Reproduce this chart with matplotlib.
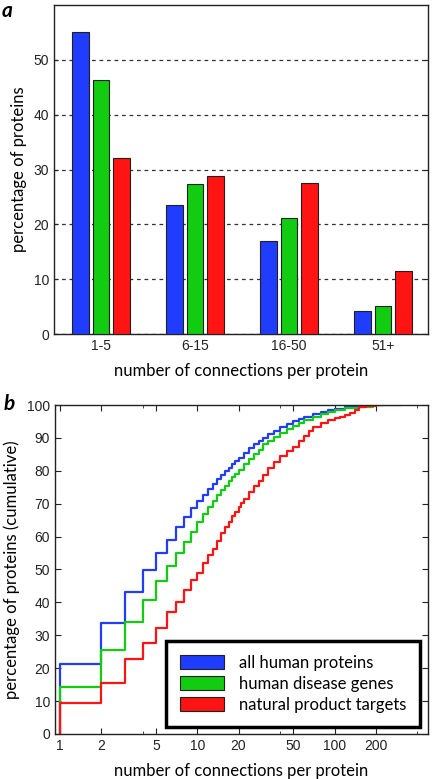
import matplotlib.pyplot as plt
import matplotlib.patches as mpatches
import numpy as np

# panel a: bars
groups = ["1-5", "6-15", "16-50", "51+"]
all_human = [55.0, 23.6, 16.9, 4.2]
disease = [46.3, 27.4, 21.2, 5.1]
natural = [32.1, 28.8, 27.6, 11.5]

# panel b: cumulative curves (x = connections, y = percent)
blue_x = [1, 2, 3, 4, 5, 6, 7, 8, 9, 10, 11, 12, 13, 14, 15, 16, 17, 18, 19, 20,
          22, 24, 26, 28, 30, 33, 36, 40, 45, 50, 55, 60, 70, 80, 90, 100, 120, 150, 170, 210]
blue_y = [21.4, 33.7, 43.2, 49.9, 55.0, 59.1, 62.8, 66.0, 68.6, 70.8, 72.6, 74.4, 75.9, 77.4,
          78.7, 79.9, 81.0, 82.0, 83.0, 83.9, 85.4, 86.8, 88.0, 89.1, 90.0, 91.2, 92.2, 93.3,
          94.3, 95.1, 95.8, 96.4, 97.3, 98.0, 98.5, 98.9, 99.4, 99.8, 100.0, 100.0]
green_x = [1, 2, 3, 4, 5, 6, 7, 8, 9, 10, 11, 12, 13, 14, 15, 16, 17, 18, 19, 20,
           22, 24, 26, 28, 30, 33, 36, 40, 45, 50, 55, 60, 70, 80, 90, 100, 120, 150, 190, 220]
green_y = [14.4, 25.6, 34.0, 40.7, 46.4, 51.0, 55.1, 58.4, 61.4, 64.3, 66.8, 69.0, 70.9, 72.6,
           74.1, 75.5, 76.8, 78.0, 79.1, 80.1, 82.0, 83.6, 85.0, 86.3, 88.0, 89.2, 90.2, 91.4,
           92.6, 93.7, 94.6, 95.3, 96.5, 97.3, 97.9, 98.4, 99.0, 99.5, 100.0, 100.0]
red_x = [1, 2, 3, 4, 5, 6, 7, 8, 9, 10, 11, 12, 13, 14, 15, 16, 17, 18, 19, 20, 21, 22,
         24, 26, 28, 30, 33, 36, 40, 45, 50, 55, 60, 65, 70, 80, 90, 100, 110, 120, 130,
         140, 150, 170, 200, 300]
red_y = [9.3, 15.6, 22.8, 27.7, 32.3, 37.0, 40.2, 43.8, 46.8, 49.0, 52.0, 54.3, 56.2, 58.8,
         61.0, 62.8, 64.5, 66.2, 67.6, 69.0, 70.2, 71.3, 73.5, 75.3, 77.0, 78.6, 80.8, 82.6,
         84.6, 86.0, 87.3, 89.0, 90.5, 92.0, 93.3, 94.6, 95.3, 96.0, 96.5, 97.0, 97.6, 98.6,
         99.3, 99.7, 99.9, 100.0]
series_names = ["all human proteins", "human disease genes", "natural product targets"]

BLUE = "#1f3cff"
GREEN = "#12cc12"
RED = "#ff1414"
LABEL_FONT = ["Lato", "DejaVu Sans"]
TICK_FONT = ["Liberation Sans", "DejaVu Sans"]

plt.rcParams["font.family"] = TICK_FONT
plt.rcParams["axes.edgecolor"] = "#222222"
plt.rcParams["axes.linewidth"] = 1.0

fig = plt.figure(figsize=(4.32, 7.79), dpi=100)

# ---- panel a ----
ax1 = fig.add_axes([0.125, 0.5712, 0.866, 0.4224])
x = np.arange(1, len(groups) + 1)
off = 0.22
w = 0.18
ax1.bar(x - off, all_human, w, color=BLUE, edgecolor="#202020", linewidth=0.8, zorder=3)
ax1.bar(x, disease, w, color=GREEN, edgecolor="#202020", linewidth=0.8, zorder=3)
ax1.bar(x + off, natural, w, color=RED, edgecolor="#202020", linewidth=0.8, zorder=3)
ax1.set_xlim(0.5, 4.48)
ax1.set_ylim(0, 60)
ax1.set_yticks([0, 10, 20, 30, 40, 50])
ax1.set_xticks(x)
ax1.set_xticklabels(groups)
ax1.yaxis.grid(True, color="#333333", linestyle=(0, (3, 3)), linewidth=0.9, zorder=0)
ax1.set_axisbelow(True)
ax1.tick_params(direction="in", labelsize=10, length=3, colors="#222222",
                right=True, top=False)
ax1.set_ylabel("percentage of proteins", family=LABEL_FONT, fontsize=12, labelpad=5)
ax1.set_xlabel("number of connections per protein", family=LABEL_FONT, fontsize=12, labelpad=7)

# ---- panel b ----
ax2 = fig.add_axes([0.127, 0.0578, 0.864, 0.4223])
for xs, ys, c in [(blue_x, blue_y, BLUE), (green_x, green_y, GREEN), (red_x, red_y, RED)]:
    ax2.plot([1] + xs, [0] + ys, drawstyle="steps-post", color=c, linewidth=1.6)
ax2.set_xscale("log")
ax2.set_xlim(0.92, 480)
ax2.set_ylim(0, 100)
ax2.set_yticks(range(0, 101, 10))
ax2.set_xticks([1, 2, 5, 10, 20, 50, 100, 200])
ax2.set_xticklabels(["1", "2", "5", "10", "20", "50", "100", "200"])
ax2.set_xticks([4, 40, 400], minor=True)
ax2.tick_params(which="major", direction="in", labelsize=10, length=4, colors="#222222",
                top=True, right=True)
ax2.tick_params(which="minor", direction="in", length=2, colors="#222222",
                top=True, right=True, labelbottom=False)
ax2.set_ylabel("percentage of proteins (cumulative)", family=LABEL_FONT, fontsize=12, labelpad=5)
ax2.set_xlabel("number of connections per protein", family=LABEL_FONT, fontsize=12, labelpad=7)

handles = [mpatches.Patch(facecolor=c, edgecolor="#202020", linewidth=0.8)
           for c in [BLUE, GREEN, RED]]
leg = ax2.legend(handles, series_names, loc="lower right", bbox_to_anchor=(0.979, 0.021),
                 fancybox=False, framealpha=1, edgecolor="black",
                 prop={"family": LABEL_FONT, "size": 12},
                 handlelength=2.6, handleheight=0.95, borderpad=0.85,
                 labelspacing=0.3, handletextpad=0.9, borderaxespad=0)
leg.get_frame().set_linewidth(2.5)

fig.text(0.003, 0.999, "a", fontsize=15, style="italic", weight="bold",
         family=LABEL_FONT, va="top", ha="left")
fig.text(0.008, 0.494, "b", fontsize=15, style="italic", weight="bold",
         family=LABEL_FONT, va="top", ha="left")

fig.savefig("out.png", dpi=100)
